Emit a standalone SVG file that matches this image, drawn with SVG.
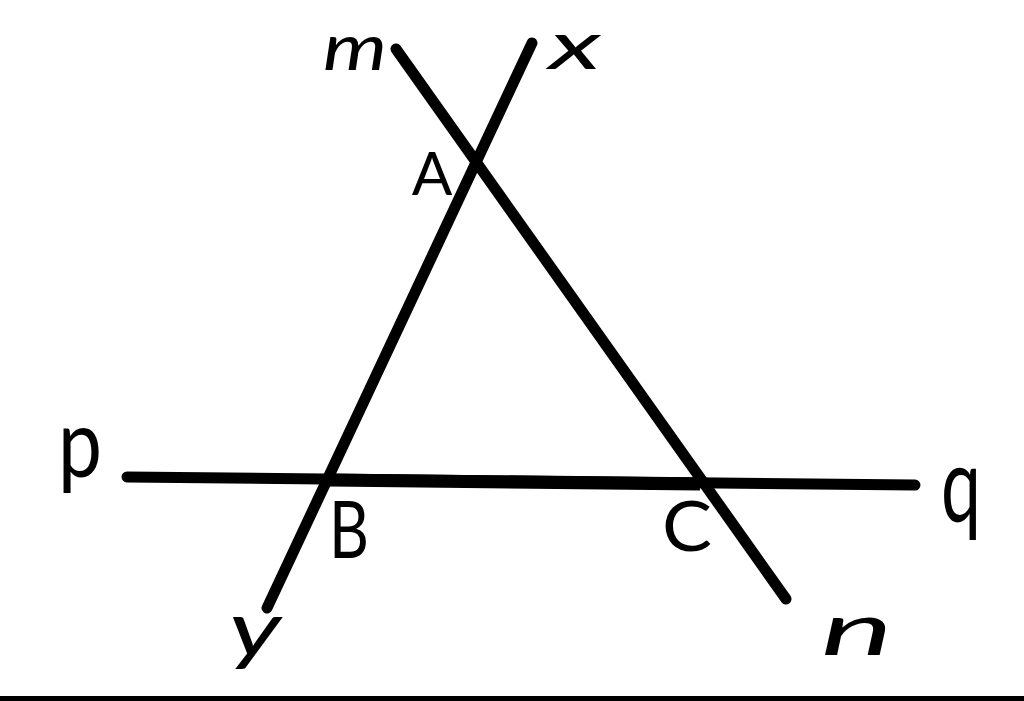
<svg xmlns="http://www.w3.org/2000/svg" width="1024" height="701" viewBox="0 0 1024 701">
<style>
.ln{stroke:#000;stroke-width:11;stroke-linecap:round;fill:none}
.lc{font-family:Lato,"Liberation Sans",sans-serif;font-style:italic;font-weight:400;fill:#000;text-anchor:middle}
.uc{font-family:Lato,"Liberation Sans",sans-serif;font-weight:400;fill:#000;text-anchor:middle}
</style>
<rect width="1024" height="701" fill="#fff"/>
<g id="lines">
<line class="ln" x1="396" y1="49" x2="786" y2="599"/>
<line class="ln" x1="532" y1="43" x2="267" y2="608"/>
<line class="ln" x1="127" y1="477" x2="915" y2="485"/>
<line x1="330" y1="480" x2="700" y2="484" stroke="#000" stroke-width="13"/>
</g>
<g id="labels">
<text class="lc" x="355" y="70" font-size="64" textLength="64" lengthAdjust="spacingAndGlyphs">m</text>
<text class="lc" x="575" y="69" font-size="66" textLength="52" lengthAdjust="spacingAndGlyphs">x</text>
<text class="uc" x="432" y="195" font-size="60">A</text>
<text class="uc" x="80" y="477" font-size="95" textLength="44" lengthAdjust="spacingAndGlyphs">p</text>
<text class="uc" x="349" y="558" font-size="80" textLength="40" lengthAdjust="spacingAndGlyphs">B</text>
<text class="uc" x="687" y="551" font-size="70" textLength="50" lengthAdjust="spacingAndGlyphs">C</text>
<text class="uc" x="961" y="522" font-size="105" textLength="40" lengthAdjust="spacingAndGlyphs">q</text>
<text class="lc" x="255" y="656" font-size="78" textLength="52" lengthAdjust="spacingAndGlyphs">y</text>
<text class="lc" x="857" y="655" font-size="74" textLength="72" lengthAdjust="spacingAndGlyphs">n</text>
</g>
<rect x="0" y="696" width="1024" height="5" fill="#000"/>
</svg>
